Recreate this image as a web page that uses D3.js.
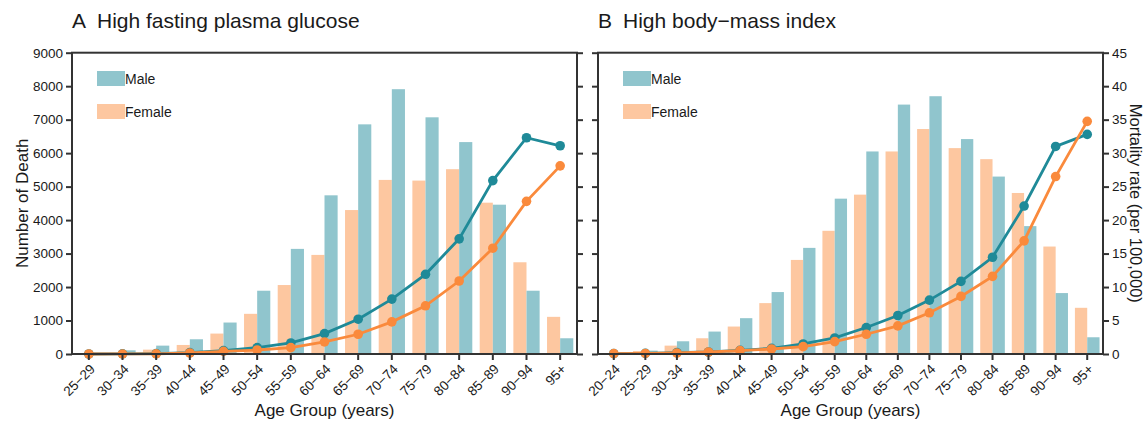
<!DOCTYPE html>
<html>
<head>
<meta charset="utf-8">
<script src="https://cdn.jsdelivr.net/npm/d3@7"></script>
<style>
  body { margin: 0; background: #fff; }
  svg text { font-family: "Liberation Sans", Arial, sans-serif; fill: #1a1a1a; }
</style>
</head>
<body>
<div id="chart"></div>
<script>
// Panel A: high fasting plasma glucose
const agesA = ['25−29', '30−34', '35−39', '40−44', '45−49', '50−54', '55−59', '60−64',
    '65−69', '70−74', '75−79', '80−84', '85−89', '90−94', '95+'];
const maleDeathA = [15, 110, 250, 440, 940, 1890, 3140, 4740, 6860, 7910, 7070, 6330, 4460, 1890, 470];
const femaleDeathA = [20, 35, 130, 270, 610, 1200, 2060, 2960, 4300, 5200, 5180, 5520, 4520, 2740, 1110];
const maleRateA = [0, 0.02, 0.06, 0.2, 0.5, 0.95, 1.65, 3.05, 5.2, 8.2, 11.9, 17.2, 25.9, 32.3, 31.1];
const femaleRateA = [0, 0.01, 0.03, 0.15, 0.4, 0.6, 0.95, 1.8, 2.95, 4.8, 7.2, 10.9, 15.8, 22.8, 28.1];

// Panel B: high body-mass index
const agesB = ['20−24', '25−29', '30−34', '35−39', '40−44', '45−49', '50−54', '55−59', '60−64',
    '65−69', '70−74', '75−79', '80−84', '85−89', '90−94', '95+'];
const maleDeathB = [5, 100, 380, 670, 1070, 1850, 3170, 4640, 6050, 7450, 7700, 6420, 5300, 3820, 1820, 500];
const femaleDeathB = [5, 90, 250, 470, 820, 1520, 2810, 3680, 4760, 6050, 6720, 6150, 5820, 4810, 3210, 1380];
const maleRateB = [0.05, 0.1, 0.2, 0.3, 0.55, 0.85, 1.5, 2.4, 3.95, 5.75, 8.05, 10.85, 14.45, 22.1, 31.0, 32.8];
const femaleRateB = [0.05, 0.08, 0.15, 0.3, 0.5, 0.75, 1.1, 1.85, 2.95, 4.2, 6.15, 8.6, 11.6, 16.9, 26.5, 34.75];

const deathTicks = d3.range(0, 9001, 1000);
const rateTicks = d3.range(0, 46, 5);

const colors = {
    maleBar: '#90c5cd',
    femaleBar: '#fdc7a0',
    maleLine: '#1f8a98',
    femaleLine: '#fa8a3c',
    axis: '#333333'
};

const width = 1146, height = 422;
const plotTop = 52.7, plotBottom = 354;

const svg = d3.select('#chart')
    .append('svg')
    .attr('width', width)
    .attr('height', height);

function drawPanel(opts) {
    const { left, right, ages, maleDeath, femaleDeath, maleRate, femaleRate,
        letter, title, leftLabels, rightLabels } = opts;

    const x = d3.scaleBand().domain(ages).range([left, right]).padding(0);
    const yDeath = d3.scaleLinear().domain([0, 9000]).range([plotBottom, plotTop]);
    const yRate = d3.scaleLinear().domain([0, 45]).range([plotBottom, plotTop]);
    const bw = x.bandwidth() * 0.39;
    const cx = d => x(d) + x.bandwidth() / 2;

    const g = svg.append('g');

    // bars (female left of tick, male right of tick)
    g.selectAll('.female-bar')
        .data(ages)
        .enter()
        .append('rect')
        .attr('x', (d) => cx(d) - bw)
        .attr('y', (d, i) => yDeath(femaleDeath[i]))
        .attr('width', bw)
        .attr('height', (d, i) => plotBottom - yDeath(femaleDeath[i]))
        .attr('fill', colors.femaleBar);

    g.selectAll('.male-bar')
        .data(ages)
        .enter()
        .append('rect')
        .attr('x', (d) => cx(d))
        .attr('y', (d, i) => yDeath(maleDeath[i]))
        .attr('width', bw)
        .attr('height', (d, i) => plotBottom - yDeath(maleDeath[i]))
        .attr('fill', colors.maleBar);

    // lines + dots
    const series = [
        { vals: maleRate, color: colors.maleLine },
        { vals: femaleRate, color: colors.femaleLine }
    ];
    series.forEach(s => {
        const line = d3.line()
            .x((d, i) => cx(ages[i]))
            .y(d => yRate(d));
        g.append('path')
            .datum(s.vals)
            .attr('d', line)
            .attr('fill', 'none')
            .attr('stroke', s.color)
            .attr('stroke-width', 2.8);
        g.selectAll(null)
            .data(s.vals)
            .enter()
            .append('circle')
            .attr('cx', (d, i) => cx(ages[i]))
            .attr('cy', d => yRate(d))
            .attr('r', 4.8)
            .attr('fill', s.color);
    });

    // frame
    g.append('rect')
        .attr('x', left)
        .attr('y', plotTop)
        .attr('width', right - left)
        .attr('height', plotBottom - plotTop)
        .attr('fill', 'none')
        .attr('stroke', colors.axis)
        .attr('stroke-width', 2);

    // left axis
    const yAxisL = d3.axisLeft(yDeath).tickValues(deathTicks).tickSize(6).tickPadding(3)
        .tickFormat(leftLabels ? d3.format('d') : '');
    const gl = g.append('g').attr('transform', `translate(${left},0)`).call(yAxisL);

    // right axis
    const yAxisR = d3.axisRight(yRate).tickValues(rateTicks).tickSize(6).tickPadding(3)
        .tickFormat(rightLabels ? d3.format('d') : '');
    const gr = g.append('g').attr('transform', `translate(${right},0)`).call(yAxisR);

    // bottom axis
    const xAxis = d3.axisBottom(x).tickSize(6).tickPadding(3);
    const gx = g.append('g').attr('transform', `translate(0,${plotBottom})`).call(xAxis);
    gx.selectAll('.tick text')
        .attr('text-anchor', 'end')
        .attr('x', 0)
        .attr('y', 0)
        .attr('dy', null)
        .attr('transform', 'translate(7,16) rotate(-45)');

    [gl, gr, gx].forEach(a => {
        a.select('.domain').remove();
        a.selectAll('.tick line').attr('stroke', colors.axis).attr('stroke-width', 2);
        a.selectAll('.tick text').style('font-size', '13.5px').attr('fill', '#1a1a1a');
    });

    // x title
    g.append('text')
        .attr('x', (left + right) / 2)
        .attr('y', 416)
        .attr('text-anchor', 'middle')
        .style('font-size', '17px')
        .text('Age Group (years)');

    // panel title
    g.append('text')
        .attr('x', left)
        .attr('y', 28)
        .style('font-size', '21px')
        .text(letter);
    g.append('text')
        .attr('x', left + 25)
        .attr('y', 28)
        .style('font-size', '21px')
        .text(title);

    // legend
    const legend = [
        { label: 'Male', color: colors.maleBar, y: 71 },
        { label: 'Female', color: colors.femaleBar, y: 104 }
    ];
    legend.forEach(l => {
        g.append('rect')
            .attr('x', left + 25)
            .attr('y', l.y)
            .attr('width', 28)
            .attr('height', 15)
            .attr('fill', l.color);
        g.append('text')
            .attr('x', left + 53)
            .attr('y', l.y + 13)
            .style('font-size', '14px')
            .text(l.label);
    });

    return g;
}

drawPanel({
    left: 72, right: 577, ages: agesA,
    maleDeath: maleDeathA, femaleDeath: femaleDeathA,
    maleRate: maleRateA, femaleRate: femaleRateA,
    letter: 'A', title: 'High fasting plasma glucose',
    leftLabels: true, rightLabels: false
});

drawPanel({
    left: 598, right: 1103, ages: agesB,
    maleDeath: maleDeathB, femaleDeath: femaleDeathB,
    maleRate: maleRateB, femaleRate: femaleRateB,
    letter: 'B', title: 'High body−mass index',
    leftLabels: false, rightLabels: true
});

// y titles
svg.append('text')
    .attr('transform', `translate(28,${(plotTop + plotBottom) / 2}) rotate(-90)`)
    .attr('text-anchor', 'middle')
    .style('font-size', '17px')
    .text('Number of Death');

svg.append('text')
    .attr('transform', `translate(1130,${(plotTop + plotBottom) / 2}) rotate(90)`)
    .attr('text-anchor', 'middle')
    .style('font-size', '16.5px')
    .text('Mortality rate (per 100,000)');
</script>
</body>
</html>
